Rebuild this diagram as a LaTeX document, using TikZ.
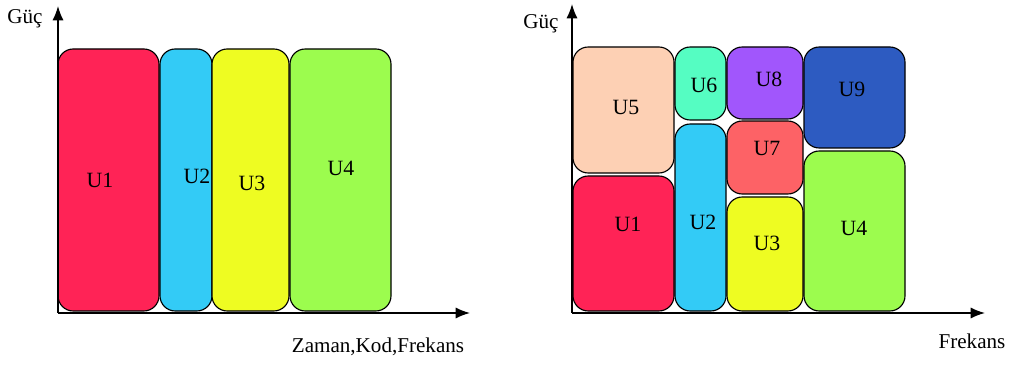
\documentclass[tikz,border=0pt]{standalone}
\usepackage{fontspec}
\setmainfont{Liberation Serif}
\usepackage{xcolor}
\usetikzlibrary{arrows.meta}

\definecolor{cU1}{HTML}{FF2356}
\definecolor{cU2}{HTML}{33CBF6}
\definecolor{cU3}{HTML}{EEFC22}
\definecolor{cU4}{HTML}{9CFC4E}
\definecolor{cU5}{HTML}{FDD0B4}
\definecolor{cU6}{HTML}{55FDC2}
\definecolor{cU7}{HTML}{FD6266}
\definecolor{cU8}{HTML}{A156FC}
\definecolor{cU9}{HTML}{2D5BC1}

\begin{document}
\begin{tikzpicture}[
  x=0.025cm, y=-0.025cm,
  userbox/.style={draw=black, line width=0.8pt, rounded corners=0.38cm},
  ulab/.style={font=\fontsize{15.5}{17}\selectfont, inner sep=0pt},
  axlab/.style={font=\fontsize{15}{17}\selectfont, inner sep=0pt},
  axis/.style={-{Latex[length=3.6mm, width=2.8mm]}, line width=1.1pt}
]
\useasboundingbox (0,0) rectangle (1010,365);

% left: one user per slot
\foreach \xa/\ya/\xb/\yb/\c/\lx/\ly in {
  58/49/159/311/U1/100/180,
  160/49/212/311/U2/197/176,
  212/49/289/311/U3/252/183,
  290/49/391/311/U4/341/168}
{
  \filldraw[userbox, fill=c\c] (\xa,\ya) rectangle (\xb,\yb);
  \node[ulab] (a\c) at (\lx,\ly) {\c};
}
\coordinate (ao) at (58,313);
\coordinate (ay) at (58,6);
\coordinate (ax) at (470,313);
\draw[axis] (ao) -- (ay);
\draw[axis] (ao) -- (ax);
\node[axlab] (aguc) at (25,19) {Güç};
\node[axlab] (afreq) at (378,347) {Zaman,Kod,Frekans};

% right: users share the frequency band
\foreach \xa/\ya/\xb/\yb/\c/\lx/\ly in {
  573/47/674/173/U5/626/107,
  573/176/674/311/U1/628/224,
  675/47/726/120/U6/704/85,
  675/124/726/311/U2/703/222,
  727/47/803/119/U8/769/79,
  727/121/803/194/U7/767/148,
  727/197/803/311/U3/767/243,
  804/47/905/148/U9/852/89,
  804/151/905/311/U4/854/228}
{
  \filldraw[userbox, fill=c\c] (\xa,\ya) rectangle (\xb,\yb);
  \node[ulab] (b\c) at (\lx,\ly) {\c};
}
\coordinate (bo) at (572,313);
\coordinate (by) at (572,4);
\coordinate (bx) at (985,313);
\draw[axis] (bo) -- (by);
\draw[axis] (bo) -- (bx);
\node[axlab] (bguc) at (541,24) {Güç};
\node[axlab] (bfreq) at (972,341) {Frekans};
\end{tikzpicture}
\end{document}
